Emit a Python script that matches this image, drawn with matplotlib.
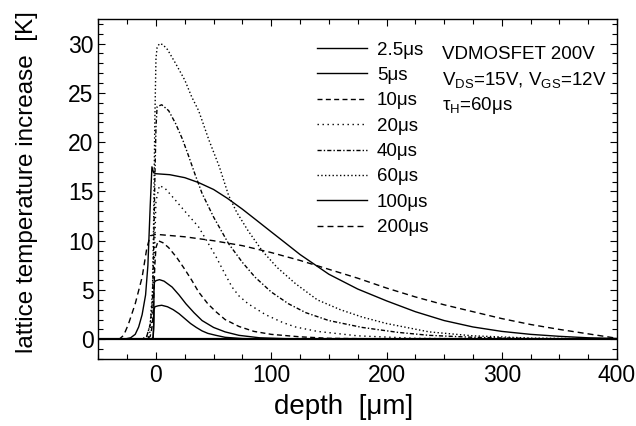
import matplotlib
matplotlib.use('Agg')
import matplotlib.pyplot as plt
from matplotlib.ticker import MultipleLocator

plt.rcParams['font.family'] = ['Liberation Sans', 'DejaVu Sans']
plt.rcParams['mathtext.fontset'] = 'custom'
plt.rcParams['mathtext.rm'] = 'Liberation Sans'
plt.rcParams['mathtext.it'] = 'Liberation Sans:italic'

# temperature profiles: depth [um] -> increase [K]
depth_2p5 = [-50, -4, -2.5, -2, -1.6, -1, 2, 5, 10, 15, 20, 25, 30, 35, 40, 45, 52, 60, 75, 100, 400]
temp_2p5 = [0, 0, 0.1, 1.0, 3.0, 3.3, 3.4, 3.45, 3.3, 3.0, 2.6, 2.1, 1.6, 1.2, 0.85, 0.6, 0.4, 0.2, 0.07, 0.02, 0]

depth_5 = [-50, -4, -2.5, -2, -1.7, -1.3, 0, 3, 7, 14, 20, 26, 33, 40, 50, 60, 72, 90, 120, 400]
temp_5 = [0, 0, 0.2, 1.5, 5.0, 5.8, 5.95, 6.05, 5.9, 5.3, 4.5, 3.6, 2.7, 1.9, 1.2, 0.75, 0.4, 0.15, 0.03, 0]

depth_10 = [-50, -8, -5, -3, -2, -1, 0, 2, 6, 11, 18, 25, 31, 37, 45, 52, 60, 72, 85, 100, 125, 150, 200, 400]
temp_10 = [0, 0, 0.3, 1.5, 4.0, 7.5, 9.3, 10.0, 9.8, 9.3, 8.3, 7.1, 6.0, 4.8, 3.6, 2.8, 2.0, 1.3, 0.8, 0.5, 0.25, 0.1, 0.03, 0]

depth_20 = [-50, -10, -6, -4, -2, -1, 0, 3, 8, 17, 25, 37, 45, 52, 60, 66, 72, 80, 95, 110, 121, 140, 175, 225, 300, 400]
temp_20 = [0, 0, 0.3, 1.5, 5.0, 10.0, 14.0, 15.6, 15.3, 14.1, 13.0, 11.4, 9.8, 8.4, 6.6, 5.3, 4.4, 3.6, 2.5, 1.7, 1.25, 0.8, 0.35, 0.1, 0.02, 0]

depth_40 = [-50, -12, -8, -5, -3, -2, -1, 0, 1, 5, 11, 17, 23, 28, 34, 40, 50, 63, 75, 86, 100, 115, 130, 150, 179, 210, 237, 275, 325, 400]
temp_40 = [0, 0, 0.3, 1.5, 4.0, 9.0, 16.0, 21.5, 23.6, 23.8, 23.2, 21.9, 20.3, 18.7, 16.7, 14.8, 12.4, 9.7, 7.8, 6.3, 4.8, 3.6, 2.7, 1.9, 1.2, 0.7, 0.4, 0.2, 0.07, 0.02]

depth_60 = [-50, -12, -8, -5, -3, -2, -1, 0, 1, 3, 6, 10, 17, 25, 31, 37, 46, 55, 63, 70, 80, 92, 105, 121, 140, 160, 179, 200, 237, 275, 325, 400]
temp_60 = [0, 0, 0.3, 1.5, 5.0, 12.0, 22.0, 28.5, 29.6, 30.0, 29.9, 29.4, 28.0, 26.3, 24.6, 23.2, 20.2, 17.5, 14.6, 12.9, 11.0, 9.0, 7.3, 5.65, 4.0, 3.0, 2.25, 1.6, 0.75, 0.35, 0.12, 0.03]

depth_100 = [-50, -28, -22, -18, -15, -12, -9, -7, -5, -3.5, -2, 0, 12, 25, 37, 50, 62, 75, 87, 100, 112, 125, 150, 175, 200, 225, 250, 275, 300, 325, 350, 375, 400]
temp_100 = [0, 0, 0.15, 0.5, 1.25, 2.5, 4.5, 7.5, 13.5, 17.5, 16.9, 16.8, 16.7, 16.4, 15.9, 15.2, 14.3, 13.2, 12.1, 10.9, 9.8, 8.6, 6.6, 5.1, 3.9, 2.8, 1.9, 1.25, 0.8, 0.5, 0.3, 0.15, 0.08]

depth_200 = [-50, -32, -28, -24, -18, -12, -8, -5, 0, 25, 50, 75, 100, 125, 150, 175, 200, 225, 250, 275, 300, 325, 350, 375, 400]
temp_200 = [0, 0, 0.4, 1.5, 3.6, 6.3, 9.2, 10.5, 10.65, 10.4, 10.0, 9.5, 8.8, 8.0, 7.1, 6.2, 5.2, 4.3, 3.5, 2.8, 2.1, 1.5, 1.0, 0.55, 0.1]

curves = [
    ('2.5μs', depth_2p5, temp_2p5, '-'),
    ('5μs', depth_5, temp_5, '-'),
    ('10μs', depth_10, temp_10, (0, (3.6, 2.4))),
    ('20μs', depth_20, temp_20, (0, (1, 2.6))),
    ('40μs', depth_40, temp_40, (0, (3, 1.5, 1, 1.5))),
    ('60μs', depth_60, temp_60, (0, (1, 1.7))),
    ('100μs', depth_100, temp_100, '-'),
    ('200μs', depth_200, temp_200, (0, (4.3, 2.9))),
]

fig = plt.figure(figsize=(6.36, 4.26), dpi=100)
ax = fig.add_axes([0.1546, 0.1573, 0.8156, 0.7981])

ax.axhline(0, color='black', lw=1.6)
for label, x, y, ls in curves:
    ax.plot(x, y, color='black', lw=1.0, linestyle=ls, label=label)

ax.set_xlim(-50, 400)
ax.set_ylim(-2, 32.5)
ax.xaxis.set_major_locator(MultipleLocator(100))
ax.xaxis.set_minor_locator(MultipleLocator(25))
ax.yaxis.set_major_locator(MultipleLocator(5))
ax.yaxis.set_minor_locator(MultipleLocator(1))
ax.tick_params(which='both', direction='in', top=True, right=True, width=0.8, labelsize=16.5)
ax.tick_params(which='major', length=5)
ax.tick_params(which='minor', length=3.3)
for sp in ax.spines.values():
    sp.set_linewidth(1.0)

ax.set_xlabel('depth  [μm]', fontsize=20, labelpad=5)
ax.xaxis.label.set_x(0.4737)
ax.set_ylabel('lattice temperature increase  [K]', fontsize=17.5)
ax.yaxis.set_label_coords(-0.116, 0.52)

ax.legend(loc='upper left', bbox_to_anchor=(0.4216, 0.934), frameon=False,
          fontsize=13.5, handlelength=2.67, handletextpad=0.53, labelspacing=0.44,
          borderpad=0, borderaxespad=0)

ax.text(0.662, 0.882, 'VDMOSFET 200V', transform=ax.transAxes, fontsize=13.5, va='baseline')
ax.text(0.662, 0.806, r'V$_{\mathrm{DS}}$=15V, V$_{\mathrm{GS}}$=12V', transform=ax.transAxes,
        fontsize=13.5, va='baseline')
ax.text(0.662, 0.732, 'τ$_{\\mathrm{H}}$=60μs', transform=ax.transAxes, fontsize=13.5, va='baseline')

fig.savefig('out.png', dpi=100)
